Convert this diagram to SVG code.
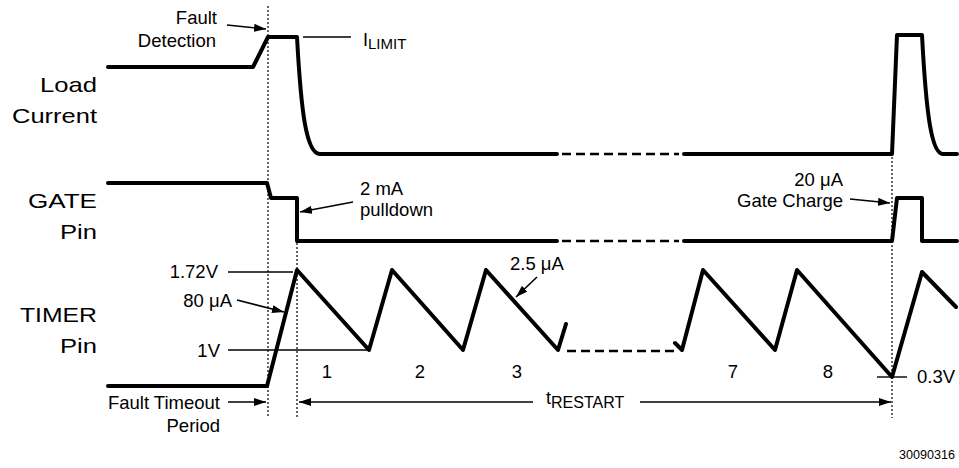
<svg xmlns="http://www.w3.org/2000/svg" width="959" height="468" viewBox="0 0 959 468">
<defs>
<marker id="ah" viewBox="0 0 12 8" refX="12" refY="4" markerWidth="12" markerHeight="8" markerUnits="userSpaceOnUse" orient="auto">
<path d="M0,0 L12,4 L0,8 Z" fill="#000"/>
</marker>
<style>
text{font-family:"Liberation Sans",Arial,sans-serif;fill:#000}
.lbl{font-size:21px;text-anchor:end}
.ann{font-size:18.5px}
.wave{fill:none;stroke:#000;stroke-width:4;stroke-linejoin:round;stroke-linecap:round}
.dash{fill:none;stroke:#000;stroke-width:2.5;stroke-dasharray:9,5}
.thin{fill:none;stroke:#000;stroke-width:1.4}
.dot{fill:none;stroke:#000;stroke-width:1.2;stroke-dasharray:2,2}
.arr{fill:none;stroke:#000;stroke-width:1.6;marker-end:url(#ah)}
</style>
</defs>
<rect width="959" height="468" fill="#fff"/>

<g id="row-labels">
<text class="lbl" x="97" y="92" textLength="57" lengthAdjust="spacingAndGlyphs">Load</text>
<text class="lbl" x="97" y="123" textLength="85" lengthAdjust="spacingAndGlyphs">Current</text>
<text class="lbl" x="97" y="208" textLength="69" lengthAdjust="spacingAndGlyphs">GATE</text>
<text class="lbl" x="97" y="239" textLength="37" lengthAdjust="spacingAndGlyphs">Pin</text>
<text class="lbl" x="97" y="322" textLength="77" lengthAdjust="spacingAndGlyphs">TIMER</text>
<text class="lbl" x="97" y="353" textLength="37" lengthAdjust="spacingAndGlyphs">Pin</text>
</g>

<g id="load-current">
<path class="wave" d="M108,67 L253,67 L268,37 L297,37 C301,110 306,154 320,154 L557,154"/>
<path class="dash" d="M562,154 L679,154"/>
<path class="wave" d="M684,154 L892,154 L897,35 L922,35 C926,110 931,154 943,154 L957,154"/>
</g>

<g id="gate-pin">
<path class="wave" d="M108,183 L267,183 L271,198 L297,198 L297,241 L557,241"/>
<path class="dash" d="M562,241 L679,241"/>
<path class="wave" d="M684,241 L892,241 L897,198 L922,198 L922,241 L957,241"/>
</g>

<g id="timer-pin">
<path class="wave" d="M108,386 L267,386 L297,270 L369,350 L392,270 L463,350 L486,270 L558,350 L566,324"/>
<path class="dash" d="M567,351 L677,351"/>
<path class="wave" d="M675,343 L682,350 L703,270 L775,350 L797,270 L892,377 L922,272 L956,307"/>
</g>

<g id="connectors">
<path class="dot" d="M268,6 L268,418"/>
<path class="dot" d="M297,243 L297,418"/>
<path class="dot" d="M892,157 L892,418"/>
<path class="thin" d="M303,37 L351,37"/>
<path class="thin" d="M228,272 L293,272"/>
<path class="thin" d="M228,350 L367,350"/>
<path class="thin" d="M877,377 L907,377"/>
<path class="arr" d="M227,25 L266,29"/>
<path class="arr" d="M353,202 L300,212"/>
<path class="arr" d="M237,300 L284,312"/>
<path class="arr" d="M537,277 L516,297"/>
<path class="arr" d="M850,199 L890,203"/>
<path class="arr" d="M228,402 L266,402"/>
<path class="arr" d="M533,402 L299,402"/>
<path class="arr" d="M640,402 L891,402"/>
</g>

<g id="annotations">
<text class="ann" x="217" y="24" text-anchor="end">Fault</text>
<text class="ann" x="216" y="47" text-anchor="end">Detection</text>
<text x="363" y="46" style="font-size:18px">I<tspan style="font-size:15px" dy="3">LIMIT</tspan></text>
<text class="ann" x="360" y="195">2 mA</text>
<text class="ann" x="360" y="216">pulldown</text>
<text class="ann" x="218" y="278" text-anchor="end">1.72V</text>
<text class="ann" x="232" y="307" text-anchor="end">80 μA</text>
<text class="ann" x="220" y="357" text-anchor="end">1V</text>
<text class="ann" x="510" y="270">2.5 μA</text>
<text class="ann" x="843" y="186" text-anchor="end">20 μA</text>
<text class="ann" x="843" y="207" text-anchor="end">Gate Charge</text>
<text class="ann" x="917" y="383">0.3V</text>
<text class="ann" x="327" y="378" text-anchor="middle">1</text>
<text class="ann" x="420" y="378" text-anchor="middle">2</text>
<text class="ann" x="517" y="378" text-anchor="middle">3</text>
<text class="ann" x="733" y="378" text-anchor="middle">7</text>
<text class="ann" x="828" y="378" text-anchor="middle">8</text>
<text class="ann" x="220" y="409" text-anchor="end">Fault Timeout</text>
<text class="ann" x="220" y="432" text-anchor="end">Period</text>
<text x="546" y="404" style="font-size:18px">t<tspan style="font-size:16px" dy="4">RESTART</tspan></text>
<text x="955" y="459" text-anchor="end" style="font-size:13px" textLength="56" lengthAdjust="spacingAndGlyphs">30090316</text>
</g>
</svg>
